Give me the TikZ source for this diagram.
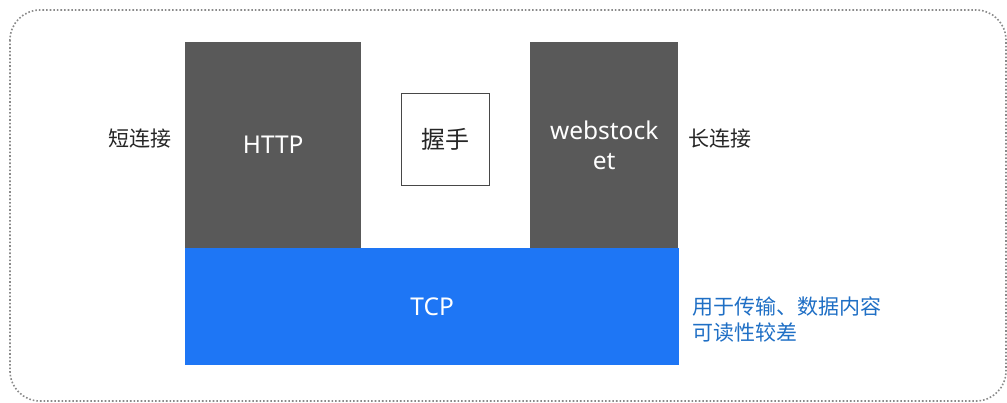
\documentclass[tikz,border=0pt]{standalone}
\usepackage{fontspec}
\setmainfont{Noto Sans}
\newfontfamily\cjk{Noto Sans CJK SC}
\definecolor{boxgray}{HTML}{595959}
\definecolor{tcpblue}{HTML}{1E76F5}
\definecolor{noteblue}{HTML}{1F6FC5}
\definecolor{framegray}{HTML}{8A8A8A}
\definecolor{labelgray}{HTML}{262626}
\begin{document}
\begin{tikzpicture}[x=1pt,y=-1pt,
  layer/.style={rectangle,inner sep=0pt,anchor=north west,text=white,font=\fontsize{24.5}{30}\selectfont,align=center},
  cjklabel/.style={inner sep=0pt,text=labelgray,font=\cjk\fontsize{21}{26}\selectfont}]
\useasboundingbox (0,0) rectangle (1007,402);
\draw[framegray,line width=1.6pt,dotted,rounded corners=30pt] (10,10) rectangle (1006,401);
\node[layer,fill=boxgray,minimum width=176pt,minimum height=206pt] (http) at (185,42) {HTTP};
\node[layer,fill=boxgray,minimum width=148pt,minimum height=206pt] (ws) at (530,42) {webstock\\et};
\node[layer,fill=tcpblue,minimum width=494pt,minimum height=117pt] (tcp) at (185,248) {TCP};
\node[rectangle,draw=black!72,line width=1.8pt,fill=white,minimum width=88pt,minimum height=92pt,inner sep=0pt,text=labelgray,font=\cjk\fontsize{24}{28}\selectfont] (hs) at (445.5,139.5) {握手};
\node[cjklabel] (short) at (140,139) {短连接};
\node[cjklabel] (long) at (720,139) {长连接};
\node[cjklabel,text=noteblue,anchor=west,align=left] (note) at (692,319) {用于传输、数据内容\\可读性较差};
\end{tikzpicture}
\end{document}
